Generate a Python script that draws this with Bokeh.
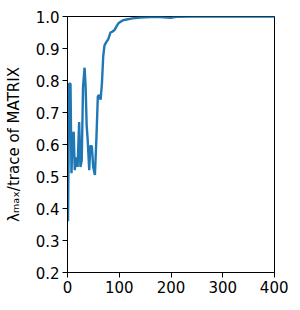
from bokeh.plotting import figure
from bokeh.models import FixedTicker, NumeralTickFormatter, Range1d
from bokeh.embed import file_html
from bokeh.resources import INLINE

steps = [0, 1, 2, 3, 4, 5.8, 7.7, 9.5, 12, 14, 17, 19.5, 22.5, 25, 27.5, 30, 33, 35, 37,
         39, 42, 44, 47, 49.6, 53, 56, 58.6, 61, 64, 66.5, 69, 71.5, 75, 79, 83, 87, 91,
         95, 99, 105.6, 112, 125, 141, 160, 180, 199, 210, 240, 280, 320, 360, 400]
ratio = [0.42, 0.36, 0.55, 0.79, 0.79, 0.79, 0.51, 0.615, 0.64, 0.52, 0.56, 0.53, 0.67,
         0.53, 0.55, 0.78, 0.84, 0.78, 0.66, 0.615, 0.52, 0.595, 0.595, 0.53, 0.505, 0.625,
         0.75, 0.755, 0.74, 0.79, 0.875, 0.91, 0.92, 0.93, 0.95, 0.953, 0.958, 0.97, 0.98,
         0.987, 0.99, 0.994, 0.997, 0.998, 0.998, 0.996, 0.999, 1.0, 1.0, 1.0, 1.0, 1.0]

x_ticks = [0, 100, 200, 300, 400]
y_ticks = [0.2, 0.3, 0.4, 0.5, 0.6, 0.7, 0.8, 0.9, 1.0]

p = figure(frame_width=207, frame_height=256, output_backend="svg", toolbar_location=None,
           x_range=Range1d(0, 400), y_range=Range1d(0.2, 1.0),
           min_border_left=67, min_border_right=14, min_border_top=16, min_border_bottom=5)
p.line(steps, ratio, line_color="#1f77b4", line_width=2.4)

p.xgrid.visible = False
p.ygrid.visible = False
p.outline_line_color = "black"
p.outline_line_width = 1
p.background_fill_color = "white"
p.border_fill_color = "white"

p.xaxis.ticker = FixedTicker(ticks=x_ticks)
p.yaxis.ticker = FixedTicker(ticks=y_ticks)
p.yaxis.formatter = NumeralTickFormatter(format="0.0")
p.yaxis.axis_label = "λₘₐₓ/trace of MATRIX"
for ax in (p.xaxis, p.yaxis):
    ax.major_label_text_font = "DejaVu Sans"
    ax.major_label_text_font_size = "15px"
    ax.major_label_text_color = "black"
    ax.axis_line_color = "black"
    ax.major_tick_line_color = "black"
    ax.major_tick_out = 5
    ax.major_tick_in = 0
    ax.minor_tick_line_color = None
    ax.axis_label_text_font = "DejaVu Sans"
    ax.axis_label_text_font_size = "15px"
    ax.axis_label_text_font_style = "normal"
    ax.axis_label_text_color = "black"
    ax.major_label_standoff = 3
p.yaxis.axis_label_standoff = 10

open("out.html", "w").write(file_html(p, INLINE))
